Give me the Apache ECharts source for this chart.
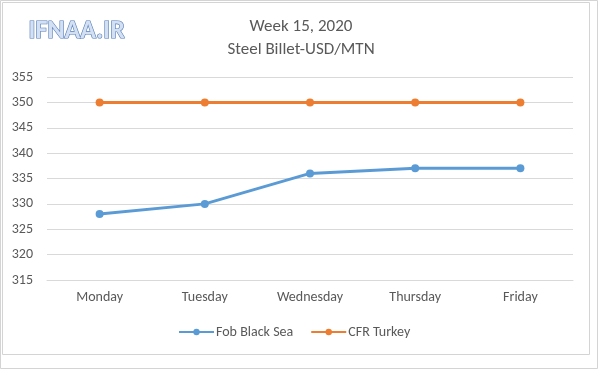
<!DOCTYPE html>
<html><head><meta charset="utf-8">
<script src="https://cdn.jsdelivr.net/npm/echarts@6/dist/echarts.min.js"></script>
<style>html,body{margin:0;padding:0;background:#fff}#c{width:600px;height:379px}</style>
</head><body><div id="c"></div>
<script>
const categories = ['Monday','Tuesday','Wednesday','Thursday','Friday'];
const fobBlackSea = [328, 330, 336, 337, 337];
const cfrTurkey = [350, 350, 350, 350, 350];
const seriesNames = ['Fob Black Sea','CFR Turkey'];
const titleLines = ['Week 15, 2020','Steel Billet-USD/MTN'];
const logoText = 'IFNAA.IR';

const font = 'Calibri, Carlito, "Open Sans", "Noto Sans", sans-serif';
const chart = echarts.init(document.getElementById('c'));
chart.setOption({
  animation: false,
  backgroundColor: '#fff',
  title: {
    text: titleLines.join('\n'),
    left: 296, top: 10, textAlign: 'center',
    textStyle: {color: '#595959', fontSize: 17, fontWeight: 'normal', fontFamily: font, lineHeight: 23}
  },
  graphic: [
    {type:'rect', shape:{x:0.5,y:0.5,width:597,height:368}, style:{fill:'none', stroke:'#d4d4d4', lineWidth:1}, silent:true},
    {type:'rect', shape:{x:2.5,y:2.5,width:587,height:352}, style:{fill:'none', stroke:'#d4d4d4', lineWidth:1}, silent:true},
    {type:'text', left: 28, top: 18, style:{text: logoText, fill:'#d2e0f2', stroke:'#4f78b8', lineWidth:1.2, fontSize:26, fontWeight:'bold', fontFamily: font,
      shadowColor:'rgba(0,0,0,0.25)', shadowOffsetX:1, shadowOffsetY:1, shadowBlur:1}}
  ],
  legend: {
    data: seriesNames,
    left: 173, top: 320,
    itemWidth: 35, itemHeight: 8, itemGap: 17,
    textStyle: {color: '#595959', fontSize: 14, fontFamily: font, padding: [0,0,0,-3]}
  },
  grid: {left: 47, right: 27, top: 77, bottom: 99},
  xAxis: {
    type: 'category', data: categories, boundaryGap: true,
    axisLine: {show: true, lineStyle: {color: '#d9d9d9'}},
    axisTick: {show: false},
    axisLabel: {color: '#595959', fontSize: 14, fontFamily: font, margin: 10}
  },
  yAxis: {
    type: 'value', min: 315, max: 355, interval: 5,
    axisLine: {show: false}, axisTick: {show: false},
    splitLine: {lineStyle: {color: '#d9d9d9', width: 1}},
    axisLabel: {color: '#595959', fontSize: 14, fontFamily: font, margin: 14}
  },
  series: [
    {name: seriesNames[0], type: 'line', data: fobBlackSea, symbol: 'circle', symbolSize: 8,
     lineStyle: {color: '#5b9bd5', width: 3}, itemStyle: {color: '#5b9bd5'}},
    {name: seriesNames[1], type: 'line', data: cfrTurkey, symbol: 'circle', symbolSize: 8,
     lineStyle: {color: '#ed7d31', width: 3}, itemStyle: {color: '#ed7d31'}}
  ]
});
</script></body></html>
